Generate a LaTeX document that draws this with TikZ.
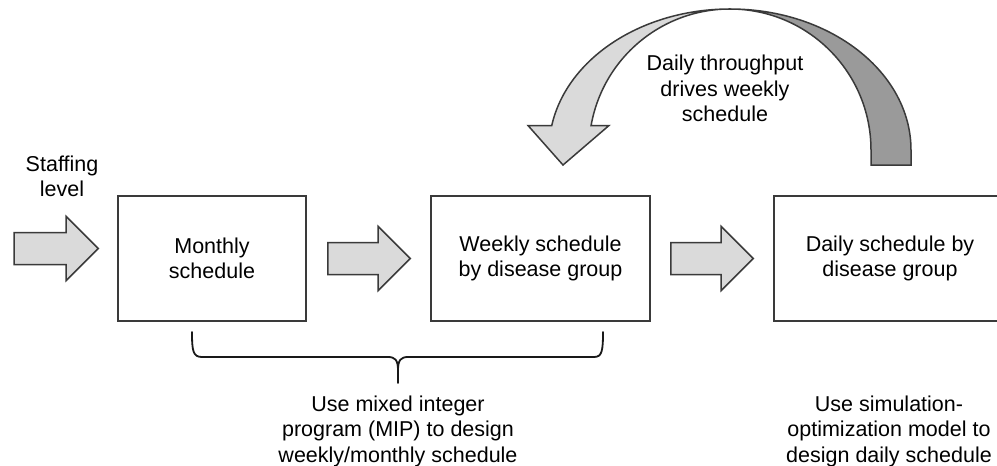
\documentclass[tikz,border=0pt]{standalone}
\usepackage{fontspec}
\setmainfont{Liberation Sans}
\usetikzlibrary{calc}

\definecolor{edge}{HTML}{3A3A3A}
\definecolor{lightfill}{HTML}{DADADA}
\definecolor{darkfill}{HTML}{9A9A9A}
\newcommand\labelfont{\fontsize{21.5}{25.5}\selectfont}

\tikzset{
  stage/.style={draw=edge, line width=1.6pt, minimum height=125pt,
    align=center, inner sep=0pt, font=\labelfont},
  note/.style={align=center, inner sep=0pt, font=\labelfont},
  blockarr/.style={draw=edge, fill=lightfill, line width=1.5pt, line join=miter},
  ribbon/.style={draw=edge, line width=1.5pt, line join=miter},
  bracepath/.style={draw=black!90, line width=1.8pt, line join=round, line cap=round}
}

% straight block arrow from a tail point #1 to a tip point #2 (same height)
\newcommand\blockarrow[2]{%
  \path[blockarr] let \p1=(#1), \p2=(#2) in
    (\x1,\y1+16pt) -- (\x2-32pt,\y1+16pt) -- (\x2-32pt,\y1+32pt) --
    (\x2,\y1) -- (\x2-32pt,\y1-32pt) -- (\x2-32pt,\y1-16pt) --
    (\x1,\y1-16pt) -- cycle;}

\begin{document}
\begin{tikzpicture}[x=1pt, y=-1pt]
\useasboundingbox (0,0) rectangle (997,466);
\clip (0,0) rectangle (997,466);

% the three planning stages
\node[stage, minimum width=188pt] (month) at (212,258.5) {Monthly\\schedule};
\node[stage, minimum width=219pt] (week) at (540.5,258.5) {Weekly schedule\\by disease group};
\node[stage, minimum width=232pt] (day) at (890,258.5) {Daily schedule by\\disease group};

% captions
\node[note] (staff) at (62,176.5) {Staffing\\level};
\node[note] (loop) at (725,88.8) {Daily throughput\\drives weekly\\schedule};
\node[note] (mip) at (398,431) {Use mixed integer\\program (MIP) to design\\weekly/monthly schedule};
\node[note] (sim) at (889,431) {Use simulation-\\optimization model to\\design daily schedule};

% block arrows between the stages
\coordinate (in0) at (14,248.5);
\coordinate (in1) at ([xshift=-19pt,yshift=10pt]month.west);
\coordinate (mw0) at ([xshift=21pt]month.east);
\coordinate (mw1) at ([xshift=-20pt]week.west);
\coordinate (wd0) at ([xshift=20pt]week.east);
\coordinate (wd1) at ([xshift=-20pt]day.west);
\blockarrow{in0}{in1}
\blockarrow{mw0}{mw1}
\blockarrow{wd0}{wd1}

% feedback ribbon arrow from the daily stage back to the weekly stage
\path[ribbon, fill=darkfill] (911,165) -- (911,150)
  arc[start angle=0, end angle=90, x radius=181pt, y radius=141pt]
  arc[start angle=90, end angle=0, radius=141pt] -- (871,165) -- cycle;
\path[ribbon, fill=lightfill] (730,9)
  arc[start angle=90, end angle=170, x radius=181pt, y radius=141pt]
  -- (528,125.5) -- (563,165) -- (609,125.5) -- (591.1,125.5)
  arc[start angle=170, end angle=90, radius=141pt] -- cycle;

% brace grouping the monthly and weekly stages
\coordinate (bl) at (192,332);
\coordinate (br) at (603,332);
\coordinate (bm) at (398,383);
\path[bracepath] (bl) .. controls (192,351) and (193,357) .. (202,357)
  -- (388,357) .. controls (395,357) and (398,360) .. (398,370) -- (bm);
\path[bracepath] (398,370) .. controls (398,360) and (401,357) .. (408,357)
  -- (594,357) .. controls (602,357) and (603,351) .. (br);
\end{tikzpicture}
\end{document}
